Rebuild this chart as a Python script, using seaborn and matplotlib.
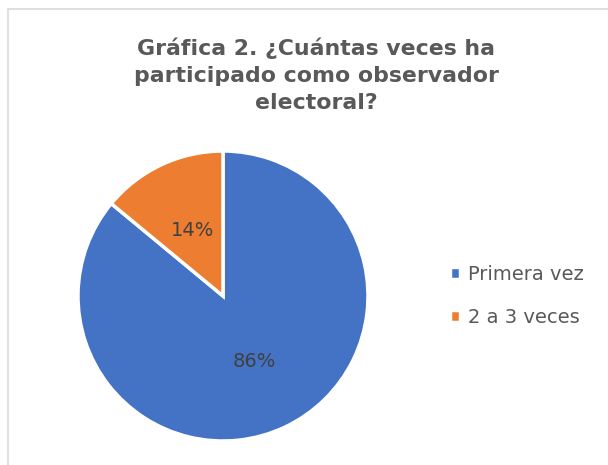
import matplotlib
matplotlib.use("Agg")
import matplotlib.pyplot as plt
import seaborn as sns
from matplotlib.patches import Rectangle

categories = ["Primera vez", "2 a 3 veces"]
values = [86, 14]
colors = ["#4472C4", "#ED7D31"]
title = "Gráfica 2. ¿Cuántas veces ha\nparticipado como observador\nelectoral?"

sns.set_theme(style="white")
plt.rcParams['font.family'] = ['DejaVu Sans']

fig = plt.figure(figsize=(6.08, 4.65), dpi=100)
fig.patches.append(Rectangle((8/608, -0.1), 1.2, (465-9)/465 + 0.1, transform=fig.transFigure,
                             fill=False, edgecolor="#D9D9D9", linewidth=1.2))

ax = fig.add_axes([78/608, 24/465, 290/608, 290/465])
wedges, texts, autotexts = ax.pie(values, colors=colors, startangle=90, counterclock=False,
                                  autopct=lambda p: f"{p:.0f}%", pctdistance=0.5,
                                  wedgeprops=dict(edgecolor="white", linewidth=2.5),
                                  textprops=dict(color="#404040", fontsize=14))
ax.set_xlim(-1, 1)
ax.set_ylim(-1, 1)
ax.set_aspect("equal")

fig.text(316/608, 1 - 75/465, title, ha="center", va="center", fontsize=15.8,
         fontweight="bold", color="#595959", linespacing=1.45)

leg = fig.legend(wedges, categories, loc="center left", bbox_to_anchor=(432/608, 1 - 296/465),
                 frameon=False, fontsize=14, labelcolor="#595959", handlelength=0.55,
                 handleheight=0.55, handletextpad=0.4, labelspacing=1.25)

fig.savefig("out.png", dpi=100)
